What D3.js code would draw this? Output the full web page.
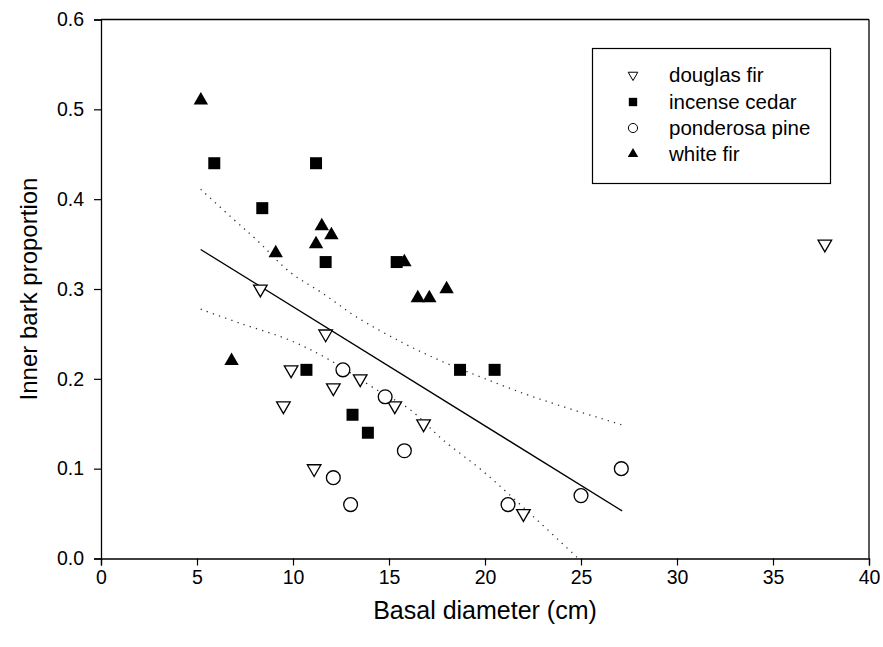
<!DOCTYPE html>
<html>
<head>
<meta charset="utf-8">
<script src="https://cdn.jsdelivr.net/npm/d3@7"></script>
<style>
  body { margin: 0; background: #fff; }
  svg text { font-family: "Liberation Sans", Arial, sans-serif; fill: #000; }
</style>
</head>
<body>
<div id="chart"></div>
<script>
// species data
const douglasX = [8.3, 11.7, 9.9, 9.5, 12.1, 13.5, 15.3, 16.8, 11.1, 22.0, 37.7];
const douglasY = [0.30, 0.25, 0.21, 0.17, 0.19, 0.20, 0.17, 0.15, 0.10, 0.05, 0.35];

const cedarX = [5.9, 11.2, 8.4, 11.7, 15.4, 10.7, 13.1, 13.9, 18.7, 20.5];
const cedarY = [0.44, 0.44, 0.39, 0.33, 0.33, 0.21, 0.16, 0.14, 0.21, 0.21];

const ponderosaX = [12.6, 14.8, 15.8, 12.1, 13.0, 21.2, 25.0, 27.1];
const ponderosaY = [0.21, 0.18, 0.12, 0.09, 0.06, 0.06, 0.07, 0.10];

const whiteFirX = [5.2, 6.8, 9.1, 11.2, 11.5, 12.0, 15.8, 16.5, 17.1, 18.0];
const whiteFirY = [0.51, 0.22, 0.34, 0.35, 0.37, 0.36, 0.33, 0.29, 0.29, 0.30];

// regression line end points
const fitX = [5.19, 27.14];
const fitY = [0.344, 0.053];

// confidence bands
const upperX = [5.19, 6.88, 8.09, 9.83, 11.56, 13.30, 15.73, 17.81, 19.90, 22.5, 27.10];
const upperY = [0.411, 0.378, 0.355, 0.319, 0.295, 0.269, 0.240, 0.219, 0.201, 0.180, 0.149];
const lowerX = [5.19, 7.22, 9.83, 11.91, 14.34, 16.08, 17.81, 19.90, 22.5, 24.86];
const lowerY = [0.2775, 0.262, 0.243, 0.221, 0.188, 0.166, 0.132, 0.097, 0.047, 0.0];

const xTicks = [0, 5, 10, 15, 20, 25, 30, 35, 40];
const yTicks = [0.0, 0.1, 0.2, 0.3, 0.4, 0.5, 0.6];

const species = ["douglas fir", "incense cedar", "ponderosa pine", "white fir"];

const W = 883, H = 647;
const margin = {top: 19.5, right: 14, bottom: 88.5, left: 101};
const width = W - margin.left - margin.right;
const height = H - margin.top - margin.bottom;

const svg = d3.select("#chart").append("svg")
    .attr("width", W)
    .attr("height", H);

const g = svg.append("g")
    .attr("transform", `translate(${margin.left},${margin.top})`);

const x = d3.scaleLinear().domain([0, 40]).range([0, width]);
const y = d3.scaleLinear().domain([0, 0.6]).range([height, 0]);

// axes
const xAxis = g.append("g")
    .attr("transform", `translate(0,${height})`)
    .call(d3.axisBottom(x).tickValues(xTicks).tickSize(7).tickPadding(5).tickFormat(d3.format("d")));
const yAxis = g.append("g")
    .call(d3.axisLeft(y).tickValues(yTicks).tickSize(7).tickPadding(10).tickFormat(d3.format(".1f")));

[xAxis, yAxis].forEach(a => {
    a.select(".domain").attr("stroke", "#000").attr("stroke-width", 1.3);
    a.selectAll(".tick line").attr("stroke", "#000").attr("stroke-width", 1.2);
    a.selectAll(".tick text").style("font-size", "19.5px").attr("fill", "#000");
});

// frame top and right
g.append("line").attr("x1", 0).attr("x2", width).attr("y1", 0).attr("y2", 0)
    .attr("stroke", "#000").attr("stroke-width", 1.3);
g.append("line").attr("x1", width).attr("x2", width).attr("y1", 0).attr("y2", height)
    .attr("stroke", "#000").attr("stroke-width", 1.3);

// titles
svg.append("text")
    .attr("x", margin.left + width / 2)
    .attr("y", 619)
    .attr("text-anchor", "middle")
    .style("font-size", "25px")
    .text("Basal diameter (cm)");

svg.append("text")
    .attr("transform", `translate(37,${margin.top + height / 2}) rotate(-90)`)
    .attr("text-anchor", "middle")
    .style("font-size", "24px")
    .text("Inner bark proportion");

// fit and bands
const line = d3.line().x(d => x(d[0])).y(d => y(d[1]));
const smooth = d3.line().x(d => x(d[0])).y(d => y(d[1])).curve(d3.curveCatmullRom);

g.append("path")
    .attr("d", line(d3.zip(fitX, fitY)))
    .attr("fill", "none").attr("stroke", "#000").attr("stroke-width", 1.3);

[[upperX, upperY], [lowerX, lowerY]].forEach(([bx, by]) => {
    g.append("path")
        .attr("d", smooth(d3.zip(bx, by)))
        .attr("fill", "none")
        .attr("stroke", "#333")
        .attr("stroke-width", 1.3)
        .attr("stroke-dasharray", "1.3,5.2");
});

// markers
const shapes = {
    "douglas fir": {type: d3.symbolTriangle, rot: 180, fill: "#fff", stroke: "#000"},
    "incense cedar": {type: d3.symbolSquare, rot: 0, fill: "#000", stroke: "none"},
    "ponderosa pine": {type: d3.symbolCircle, rot: 0, fill: "#fff", stroke: "#000"},
    "white fir": {type: d3.symbolTriangle, rot: 0, fill: "#000", stroke: "none"}
};
const bigSize = {"douglas fir": 80, "incense cedar": 144, "ponderosa pine": 150, "white fir": 90};
const smallSize = {"douglas fir": 40, "incense cedar": 70, "ponderosa pine": 66, "white fir": 48};

const seriesData = [
    {name: "douglas fir", xs: douglasX, ys: douglasY},
    {name: "incense cedar", xs: cedarX, ys: cedarY},
    {name: "ponderosa pine", xs: ponderosaX, ys: ponderosaY},
    {name: "white fir", xs: whiteFirX, ys: whiteFirY}
];

seriesData.forEach(s => {
    const st = shapes[s.name];
    g.selectAll(null)
        .data(d3.zip(s.xs, s.ys))
        .join("path")
        .attr("d", d3.symbol().type(st.type).size(bigSize[s.name]))
        .attr("transform", d => `translate(${x(d[0])},${y(d[1])}) rotate(${st.rot})`)
        .attr("fill", st.fill)
        .attr("stroke", st.stroke)
        .attr("stroke-width", 1.3);
});

// legend
const legend = svg.append("g");
legend.append("rect")
    .attr("x", 592.5).attr("y", 48.5)
    .attr("width", 238).attr("height", 135)
    .attr("fill", "#fff").attr("stroke", "#000").attr("stroke-width", 1.2);

const rowY = [75, 102, 128, 154];
species.forEach((name, i) => {
    const st = shapes[name];
    legend.append("path")
        .attr("d", d3.symbol().type(st.type).size(smallSize[name]))
        .attr("transform", `translate(633,${rowY[i]}) rotate(${st.rot})`)
        .attr("fill", st.fill)
        .attr("stroke", st.stroke)
        .attr("stroke-width", 1);
    legend.append("text")
        .attr("x", 669)
        .attr("y", rowY[i] + 7)
        .style("font-size", "20.5px")
        .text(name);
});
</script>
</body>
</html>
